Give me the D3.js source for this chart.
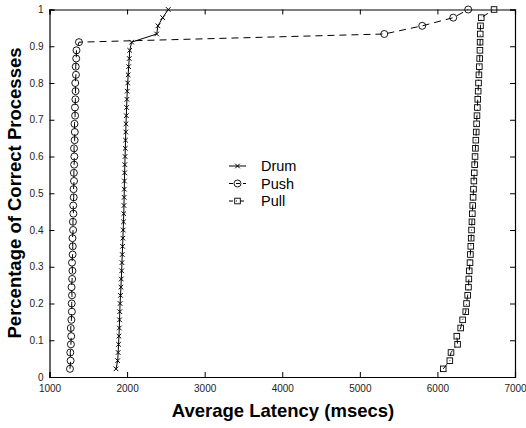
<!DOCTYPE html>
<html><head><meta charset="utf-8">
<script src="https://cdn.jsdelivr.net/npm/d3@7"></script>
<style>body{margin:0;background:#fff}svg{display:block}</style>
</head><body><svg id="c" width="526" height="428"></svg>
<script>
const N = 45;
const fractions = d3.range(1, N + 1).map(k => k / N);
const drumX = [1857,1879,1885,1890,1895,1900,1903,1906,1910,1915,1921,1925,1930,1934,1938,1942,1946,1950,1954,1957,1960,1962,1964,1966,1968,1971,1974,1977,1980,1983,1986,1990,1994,1998,2002,2008,2014,2020,2028,2034,2059,2381,2398,2459,2531];
const pushX = [1264,1272,1268,1276,1280,1274,1282,1288,1286,1290,1284,1292,1296,1290,1298,1300,1296,1304,1302,1308,1306,1312,1310,1316,1314,1318,1320,1316,1324,1326,1322,1330,1328,1334,1336,1332,1341,1338,1344,1348,1380,5315,5804,6204,6397];
const pullX = [6075,6160,6175,6260,6250,6300,6325,6365,6375,6390,6400,6405,6410,6420,6425,6430,6435,6440,6445,6450,6455,6460,6465,6470,6475,6480,6485,6490,6495,6500,6505,6510,6515,6520,6525,6530,6535,6540,6545,6548,6550,6552,6555,6565,6730];
const seriesNames = ["Drum", "Push", "Pull"];
const xTicks = [1000,2000,3000,4000,5000,6000,7000];
const yTicks = [0,0.1,0.2,0.3,0.4,0.5,0.6,0.7,0.8,0.9,1];

const svg = d3.select("#c");
const L = 49.5, R = 515, T = 9.5, B = 377;
const x = d3.scaleLinear().domain([1000, 7000]).range([L, R]);
const y = d3.scaleLinear().domain([0, 1]).range([B, T]);
const font = "Liberation Sans, Arial, sans-serif";

const tl = 5;
svg.append("g").attr("transform", `translate(0,${B})`)
  .call(d3.axisBottom(x).tickValues(xTicks).tickSize(-tl).tickPadding(8).tickFormat(d3.format("d")));
svg.append("g").attr("transform", `translate(0,${T})`)
  .call(d3.axisTop(x).tickValues(xTicks).tickSize(-tl).tickFormat(""));
svg.append("g").attr("transform", `translate(${L},0)`)
  .call(d3.axisLeft(y).tickValues(yTicks).tickSize(-tl).tickPadding(6).tickFormat(d => d3.format("")(d)));
svg.append("g").attr("transform", `translate(${R},0)`)
  .call(d3.axisRight(y).tickValues(yTicks).tickSize(-tl).tickFormat(""));
svg.selectAll(".domain").attr("stroke", "#000").attr("stroke-width", 1.2);
svg.selectAll(".tick line").attr("stroke", "#000");
svg.selectAll(".tick text").attr("font-family", font).attr("font-size", 10).attr("fill", "#222");

const mk = arr => arr.map((v, i) => [v, fractions[i]]);
const line = d3.line().x(d => x(d[0])).y(d => y(d[1]));
const data = [mk(drumX), mk(pushX), mk(pullX)];
const dashes = [null, "7,5", "6,4,1,4"];

const g = svg.append("g");
data.forEach((pts, si) => {
  g.append("path").datum(pts).attr("d", line).attr("fill", "none")
    .attr("stroke", "#000").attr("stroke-width", 1).attr("stroke-dasharray", dashes[si]);
});
function marker(sel, si, cx, cy) {
  if (si === 0) {
    const s = 2.3;
    sel.append("path").attr("d", `M${cx-s},${cy-s}L${cx+s},${cy+s}M${cx-s},${cy+s}L${cx+s},${cy-s}`)
      .attr("stroke", "#000").attr("stroke-width", 1).attr("fill", "none");
  } else if (si === 1) {
    sel.append("circle").attr("cx", cx).attr("cy", cy).attr("r", 3.5)
      .attr("fill", "none").attr("stroke", "#000").attr("stroke-width", 0.9);
  } else {
    sel.append("rect").attr("x", cx - 2.8).attr("y", cy - 2.8).attr("width", 5.6).attr("height", 5.6)
      .attr("fill", "none").attr("stroke", "#000").attr("stroke-width", 0.9);
  }
}
data.forEach((pts, si) => {
  pts.forEach(p => marker(g, si, x(p[0]), y(p[1])));
});

const lg = svg.append("g");
seriesNames.forEach((name, i) => {
  const ly = 166 + i * 17.5;
  lg.append("line").attr("x1", 229).attr("x2", 246).attr("y1", ly).attr("y2", ly)
    .attr("stroke", "#000").attr("stroke-width", 1).attr("stroke-dasharray", dashes[i] ? (i === 1 ? "4,3" : "4,3,1,3") : null);
  marker(lg, i, 237.5, ly);
  lg.append("text").attr("x", 261).attr("y", ly + 5).attr("font-family", font).attr("font-size", 14.5)
    .text(name);
});

svg.append("text").attr("x", 283).attr("y", 417).attr("text-anchor", "middle")
  .attr("font-family", font).attr("font-weight", "bold").attr("font-size", 18.5)
  .text("Average Latency (msecs)");
svg.append("text").attr("transform", "translate(21,193) rotate(-90)").attr("text-anchor", "middle")
  .attr("font-family", font).attr("font-weight", "bold").attr("font-size", 18.5)
  .text("Percentage of Correct Processes");
</script></body></html>
